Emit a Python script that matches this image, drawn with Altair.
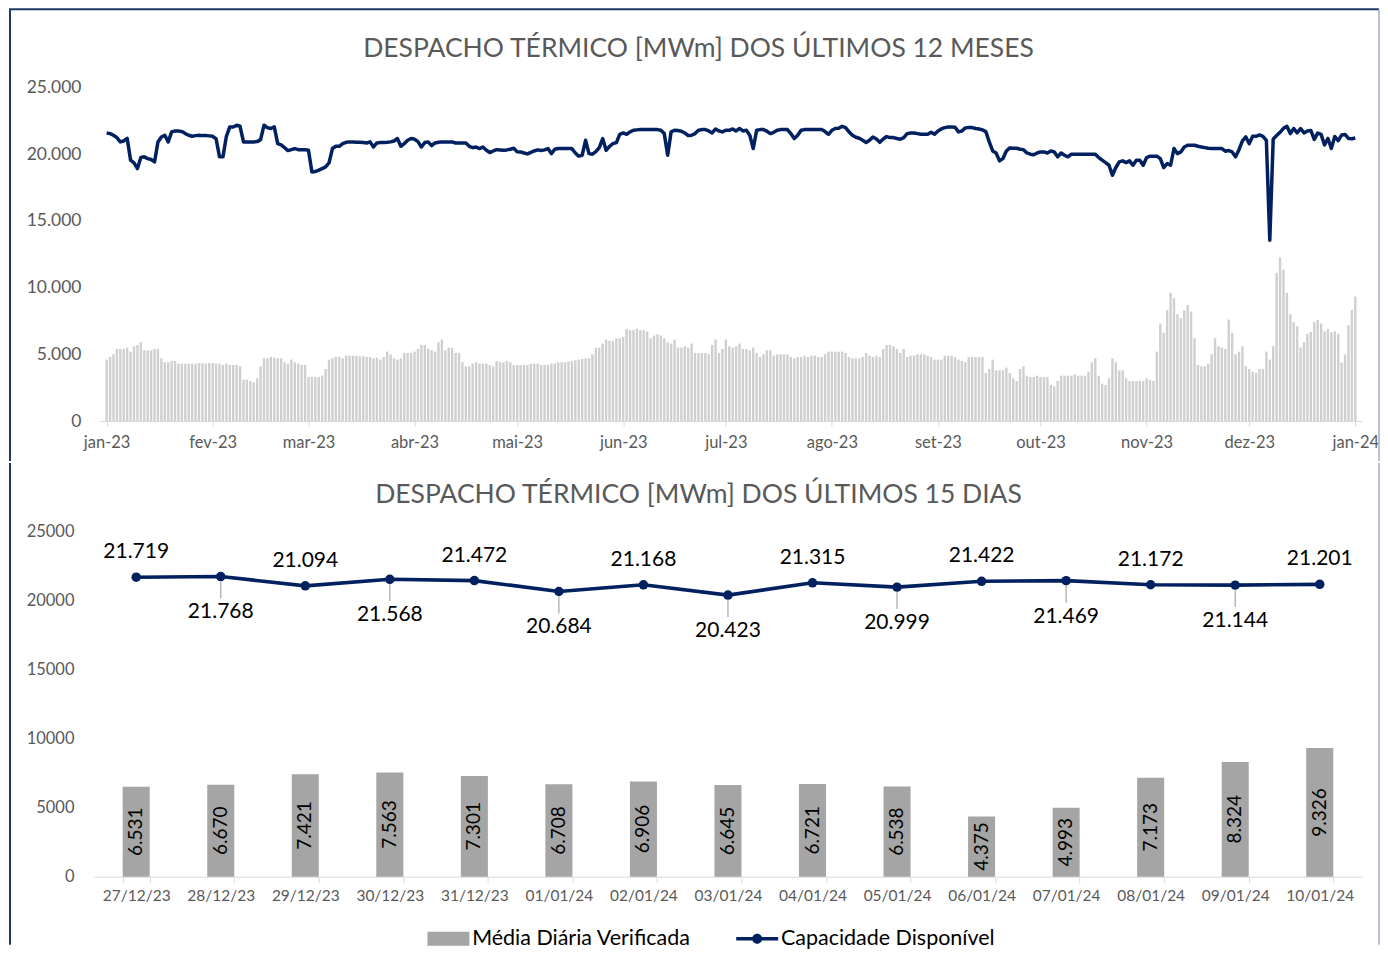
import altair as alt
import pandas as pd

# ---------------- data ----------------
START_DATE = "2023-01-10"

# Média diária verificada (MWm), 10/01/2023 .. 10/01/2024
verificada_12m = [
    4600, 4800, 5000, 5400, 5400, 5400, 5500, 5200, 5600, 5700,
    5900, 5300, 5300, 5300, 5400, 5400, 4700, 4400, 4400, 4500,
    4500, 4300, 4300, 4300, 4300, 4300, 4300, 4350, 4350, 4300,
    4350, 4350, 4300, 4300, 4200, 4300, 4200, 4200, 4200, 4100,
    3100, 3100, 3000, 2900, 3200, 4100, 4700, 4700, 4800, 4750,
    4700, 4700, 4400, 4300, 4600, 4400, 4300, 4200, 4200, 3300,
    3300, 3300, 3300, 3400, 3900, 4600, 4700, 4800, 4800, 4700,
    4900, 4900, 4900, 4900, 4850, 4850, 4800, 4800, 4700, 4750,
    4600, 4800, 5200, 5000, 4700, 4600, 4700, 5100, 5100, 5100,
    5200, 5400, 5700, 5700, 5400, 5300, 5200, 5900, 6100, 5300,
    5500, 5500, 5100, 5100, 4400, 4100, 4100, 4300, 4400, 4300,
    4300, 4300, 4200, 4100, 4500, 4400, 4400, 4500, 4400, 4200,
    4200, 4200, 4200, 4200, 4300, 4300, 4300, 4200, 4200, 4200,
    4300, 4300, 4400, 4400, 4400, 4450, 4500, 4550, 4600, 4650,
    4700, 4700, 5000, 5500, 5500, 5800, 6100, 6000, 6000, 6200,
    6200, 6300, 6900, 6800, 6800, 6900, 6800, 6800, 6700, 6200,
    6400, 6500, 6400, 6200, 5900, 5800, 6100, 5500, 5500, 5600,
    5500, 5800, 5100, 5100, 5100, 5100, 5000, 5700, 6100, 5100,
    5400, 6100, 5600, 5500, 5600, 5800, 5400, 5400, 5300, 5500,
    5100, 4800, 5000, 5300, 5300, 4900, 5000, 5000, 5000, 5000,
    4800, 4700, 4800, 4800, 4900, 4800, 4900, 4900, 4800, 4800,
    5000, 5200, 5200, 5200, 5200, 5200, 5100, 4800, 4700, 4700,
    4700, 4800, 5100, 4900, 4800, 4900, 4800, 5400, 5700, 5700,
    5600, 5400, 5100, 5400, 4800, 4900, 4900, 5000, 5000, 5000,
    4900, 4800, 4600, 4600, 4600, 4900, 4900, 4900, 4800, 4600,
    4500, 4400, 4800, 4800, 4800, 4800, 4800, 3600, 3900, 4600,
    3800, 3800, 3800, 4000, 3600, 3200, 3000, 3900, 4100, 3400,
    3300, 3300, 3400, 3300, 3300, 3300, 2700, 2600, 3000, 3400,
    3400, 3400, 3400, 3500, 3400, 3400, 3400, 3700, 4400, 4700,
    3400, 2800, 2700, 3200, 4700, 4400, 3800, 3800, 3200, 3000,
    3000, 3000, 3000, 3000, 3200, 3100, 3000, 5200, 7300, 6600,
    8300, 9600, 9200, 8000, 7700, 8300, 8700, 8200, 6200, 4200,
    4100, 4100, 4300, 5000, 6200, 5600, 5500, 5400, 7600, 6600,
    5000, 5200, 5600, 4100, 3900, 3700, 3600, 3900, 3900, 5200,
    4600, 5600, 11100, 12250, 11350, 9600, 8000, 7400, 7100, 5500,
    5900, 6531, 6670, 7421, 7563, 7301, 6708, 6906, 6645, 6721,
    6538, 4375, 4993, 7173, 8324, 9326,
]

# Capacidade disponível (MWm), same days
capacidade_12m = [
    21580, 21530, 21410, 21230, 20910, 20980, 21180, 19540, 19340, 18910,
    19740, 19790, 19660, 19590, 19410, 20910, 21280, 21410, 20910, 21660,
    21730, 21730, 21680, 21530, 21410, 21330, 21380, 21410, 21380, 21380,
    21360, 21330, 21130, 19790, 19790, 21330, 22030, 22030, 22160, 22080,
    20910, 20910, 20910, 20910, 20930, 21080, 22160, 21980, 21910, 22030,
    20780, 20680, 20480, 20260, 20330, 20410, 20330, 20330, 20330, 20280,
    18660, 18690, 18790, 18910, 19040, 19340, 20410, 20580, 20580, 20780,
    20880, 20910, 20910, 20880, 20880, 20860, 20830, 20910, 20530, 20830,
    20860, 20860, 20880, 20910, 20980, 21160, 20580, 20780, 21030, 21160,
    21110, 20930, 20530, 20860, 20910, 20630, 20830, 20880, 20910, 20910,
    20910, 20910, 20830, 20830, 20830, 20830, 20580, 20480, 20530, 20410,
    20530, 20280, 20110, 20230, 20330, 20310, 20280, 20310, 20360, 20430,
    20180, 20160, 20080, 20010, 20130, 20230, 20310, 20260, 20310, 20410,
    20030, 20360, 20410, 20410, 20410, 20410, 20410, 20080, 19840, 19910,
    21030, 20030, 19990, 20180, 20480, 21160, 20280, 20580, 20780, 20860,
    21480, 21580, 21480, 21660, 21780, 21810, 21830, 21830, 21830, 21830,
    21830, 21830, 21780, 21530, 19910, 21660, 21780, 21760, 21710, 21580,
    21380, 21410, 21530, 21780, 21830, 21830, 21730, 21580, 21880, 21730,
    21660, 21780, 21780, 21880, 21730, 21910, 21730, 21780, 21410, 20410,
    21780, 21830, 21830, 21710, 21530, 21630, 21780, 21830, 21830, 21830,
    21530, 21160, 21410, 21780, 21830, 21830, 21830, 21830, 21830, 21830,
    21680, 21480, 21780, 21910, 21930, 22080, 21980, 21660, 21410, 21260,
    21180, 21030, 20860, 21030, 21280, 21130, 20880, 21130, 21310, 21230,
    21230, 21160, 21110, 21230, 21530, 21580, 21580, 21530, 21480, 21480,
    21480, 21630, 21480, 21730, 21880, 21980, 22030, 22030, 22010, 21660,
    21730, 21960, 21980, 21980, 21910, 21880, 21810, 21680, 20910, 20230,
    20080, 19490, 19660, 20230, 20460, 20430, 20430, 20360, 20330, 20080,
    19990, 19940, 20080, 20160, 20160, 20080, 20230, 20160, 19790, 20080,
    19910, 19790, 19990, 19990, 19990, 19990, 19990, 19990, 19990, 19990,
    19740, 19540, 19360, 19160, 18410, 18990, 19410, 19490, 19360, 19490,
    19160, 19540, 19540, 19160, 19740, 19840, 19840, 19840, 19660, 18990,
    19290, 19160, 20410, 20030, 20160, 20530, 20660, 20660, 20660, 20580,
    20530, 20480, 20430, 20410, 20410, 20410, 20410, 20210, 20260, 20160,
    19790, 20330, 20980, 21280, 20780, 21330, 21330, 21430, 21330, 21030,
    13550, 21130, 21380, 21630, 21930, 22080, 21530, 21910, 21580, 21910,
    21580, 21719, 21768, 21094, 21568, 21472, 20684, 21168, 20423, 21315,
    20999, 21422, 21469, 21172, 21144, 21201,
]

month_labels = ["jan-23", "fev-23", "mar-23", "abr-23", "mai-23", "jun-23", "jul-23",
                "ago-23", "set-23", "out-23", "nov-23", "dez-23", "jan-24"]

dias_15 = ["27/12/23", "28/12/23", "29/12/23", "30/12/23", "31/12/23", "01/01/24", "02/01/24",
           "03/01/24", "04/01/24", "05/01/24", "06/01/24", "07/01/24", "08/01/24", "09/01/24",
           "10/01/24"]
verificada_15 = [6531, 6670, 7421, 7563, 7301, 6708, 6906, 6645, 6721, 6538, 4375, 4993, 7173, 8324, 9326]
capacidade_15 = [21719, 21768, 21094, 21568, 21472, 20684, 21168, 20423, 21315, 20999, 21422, 21469,
                 21172, 21144, 21201]

series_names = ["Média Diária Verificada", "Capacidade Disponível"]
y_ticks_values = [0, 5000, 10000, 15000, 20000, 25000]

title_12m = "DESPACHO TÉRMICO [MWm] DOS ÚLTIMOS 12 MESES"
title_15d = "DESPACHO TÉRMICO [MWm] DOS ÚLTIMOS 15 DIAS"

# ---------------- styling ----------------
NAVY = "#002060"
FRAME_NAVY = "#1F3864"
FRAME_LIGHT = "#A3AEC2"
BAR_LIGHT = "#CFCFCF"
BAR_DARK = "#A5A5A5"
TXT = "#595959"
FONT = "Lato"

TW, TH = 1263, 334
BW, BH = 1263, 345
FRAME_L = -90      # left frame line, relative to plot origin
FRAME_R = 1280     # right frame line

dates = pd.date_range(START_DATE, periods=len(verificada_12m), freq="D")
top_df = pd.DataFrame({
    "dia": list(range(len(dates))),
    "verificada": verificada_12m,
    "capacidade": capacidade_12m,
})
month_ticks = [i for i, d in enumerate(dates) if d.day == 10]

months_js = "[" + ",".join("'%s'" % m for m in month_labels) + "]"
ticks_js = "[" + ",".join(str(t) for t in month_ticks) + "]"
month_expr = months_js + "[indexof(" + ticks_js + ", datum.value)]"
dot_expr = "replace(format(datum.value, ','), ',', '.')"

one = pd.DataFrame({"k": [0]})

# ---------------- top panel ----------------
x_top = alt.X(
    "dia:Q",
    scale=alt.Scale(domain=[-0.5, len(dates) - 0.5], nice=False, zero=False),
    axis=alt.Axis(values=month_ticks, labelExpr=month_expr, title=None, grid=False,
                  domainColor="#D9D9D9", tickColor="#D9D9D9", tickSize=5,
                  labelColor=TXT, labelFont=FONT, labelFontSize=16.5, labelPadding=8,
                  labelFlush=False, labelOverlap=False),
)
y_top_scale = alt.Scale(domain=[0, 25000], nice=False)
y_top_axis = alt.Axis(values=y_ticks_values, labelExpr=dot_expr, title=None, grid=False,
                      domain=False, ticks=False, labelColor=TXT, labelFont=FONT,
                      labelFontSize=17.5, labelPadding=19)

top_bars = alt.Chart(top_df).mark_bar(size=2.4, color=BAR_LIGHT).encode(
    x=x_top, y=alt.Y("verificada:Q", scale=y_top_scale, axis=y_top_axis)
)
top_line = alt.Chart(top_df).mark_line(color=NAVY, strokeWidth=3.5, strokeJoin="round").encode(
    x=x_top, y=alt.Y("capacidade:Q", scale=y_top_scale, axis=y_top_axis)
)
top_title = alt.Chart(one).mark_text(
    text=title_12m, font=FONT, fontSize=26.5, color=TXT, align="center", baseline="middle"
).encode(x=alt.value(599), y=alt.value(-38))

top_frame_left = alt.Chart(one).mark_rule(color=FRAME_NAVY, strokeWidth=2).encode(
    x=alt.value(FRAME_L), y=alt.value(-78), y2=alt.value(374))
top_frame_top = alt.Chart(one).mark_rule(color=FRAME_NAVY, strokeWidth=2).encode(
    x=alt.value(FRAME_L - 1), x2=alt.value(FRAME_R), y=alt.value(-78))
top_frame_right = alt.Chart(one).mark_rule(color=FRAME_LIGHT, strokeWidth=1.5).encode(
    x=alt.value(FRAME_R), y=alt.value(-78), y2=alt.value(374))

top = alt.layer(top_bars, top_line, top_title, top_frame_left, top_frame_top, top_frame_right).properties(
    width=TW, height=TH)

# ---------------- bottom panel ----------------
bottom_df = pd.DataFrame({
    "dia": dias_15,
    "verificada": verificada_15,
    "capacidade": capacidade_15,
    "i": list(range(len(dias_15))),
})

x_bot = alt.X(
    "dia:N", sort=dias_15,
    scale=alt.Scale(paddingInner=0.68, paddingOuter=0.34, range=[-6, BW]),
    axis=alt.Axis(title=None, labelAngle=0, tickBand="extent", domainColor="#D9D9D9",
                  tickColor="#D9D9D9", tickSize=6, labelColor=TXT, labelFont=FONT,
                  labelFontSize=15.5, labelPadding=6, grid=False),
)
y_bot_scale = alt.Scale(domain=[0, 25000], nice=False)
y_bot_axis = alt.Axis(values=y_ticks_values, format="d", title=None, grid=False, domain=False,
                      ticks=False, labelColor=TXT, labelFont=FONT, labelFontSize=16.5, labelPadding=26)

base = alt.Chart(bottom_df).transform_calculate(
    mid="datum.verificada / 2",
    lbl_ver="replace(format(datum.verificada, ','), ',', '.')",
    lbl_cap="replace(format(datum.capacidade, ','), ',', '.')",
)

bot_bars = base.mark_bar(color=BAR_DARK).encode(
    x=x_bot, y=alt.Y("verificada:Q", scale=y_bot_scale, axis=y_bot_axis))
bot_bar_labels = base.mark_text(angle=270, font=FONT, fontSize=19, color="#000000",
                                align="center", baseline="middle").encode(
    x=x_bot, y=alt.Y("mid:Q", scale=y_bot_scale, axis=y_bot_axis), text="lbl_ver:N")
bot_line = base.mark_line(color=NAVY, strokeWidth=3.6).encode(
    x=x_bot, y=alt.Y("capacidade:Q", scale=y_bot_scale, axis=y_bot_axis))
bot_points = base.mark_circle(color=NAVY, size=90, opacity=1).encode(
    x=x_bot, y=alt.Y("capacidade:Q", scale=y_bot_scale, axis=y_bot_axis))
bot_leaders = base.transform_filter("datum.i % 2 == 1").mark_rule(
    color="#A6A6A6", strokeWidth=1.2, yOffset=5, y2Offset=22).encode(
    x=x_bot, y=alt.Y("capacidade:Q", scale=y_bot_scale, axis=y_bot_axis), y2="capacidade:Q")
lbl_above = base.transform_filter("datum.i % 2 == 0").mark_text(
    font=FONT, fontSize=21, color="#000000", dy=-25, baseline="middle").encode(
    x=x_bot, y=alt.Y("capacidade:Q", scale=y_bot_scale, axis=y_bot_axis), text="lbl_cap:N")
lbl_below = base.transform_filter("datum.i % 2 == 1").mark_text(
    font=FONT, fontSize=21, color="#000000", dy=36, baseline="middle").encode(
    x=x_bot, y=alt.Y("capacidade:Q", scale=y_bot_scale, axis=y_bot_axis), text="lbl_cap:N")

# legend symbols: custom paths (grey box, line with dot; all sub-paths clockwise)
RECT_PATH = "M-2.1,-0.7H2.1V0.7H-2.1Z"
LINE_PATH = ("M-2.1,-0.17H2.1V0.17H-2.1Z M-0.5,0 A0.5,0.5 0 1,1 0.5,0 "
             "A0.5,0.5 0 1,1 -0.5,0 Z")
# legend is laid out in the top-level group (origin = top plot origin)
leg = alt.Legend(title=None, orient="none", legendX=338, legendY=841, direction="horizontal",
                 labelFont=FONT, labelFontSize=21.5, labelColor="#000000", labelLimit=0,
                 symbolSize=400, symbolStrokeWidth=0, symbolOpacity=1, labelOffset=13,
                 columnPadding=44, padding=0)
legend_df = pd.DataFrame({"serie": series_names})
bot_legend = alt.Chart(legend_df).transform_filter("false").mark_point(
    filled=True, size=400, opacity=1).encode(
    color=alt.Color("serie:N", scale=alt.Scale(domain=series_names, range=[BAR_DARK, NAVY]), legend=leg),
    shape=alt.Shape("serie:N", scale=alt.Scale(domain=series_names, range=[RECT_PATH, LINE_PATH]),
                    legend=leg),
)

bot_title = alt.Chart(one).mark_text(
    text=title_15d, font=FONT, fontSize=26.5, color=TXT, align="center", baseline="middle"
).encode(x=alt.value(599), y=alt.value(-37))

bot_frame_left = alt.Chart(one).mark_rule(color=FRAME_NAVY, strokeWidth=2).encode(
    x=alt.value(FRAME_L), y=alt.value(-69), y2=alt.value(413))
bot_frame_right = alt.Chart(one).mark_rule(color=FRAME_LIGHT, strokeWidth=1.5).encode(
    x=alt.value(FRAME_R), y=alt.value(-69), y2=alt.value(413))

bottom = alt.layer(bot_bars, bot_bar_labels, bot_line, bot_points, bot_leaders, lbl_above, lbl_below,
                   bot_legend, bot_title, bot_frame_left, bot_frame_right).properties(width=BW, height=BH)

chart = alt.concat(top, bottom, columns=1, spacing=0, align="none").properties(
    padding=0
).configure(font=FONT, padding=0).configure_view(stroke=None)

chart.save("out.html", embed_options={"renderer": "svg", "actions": False})
